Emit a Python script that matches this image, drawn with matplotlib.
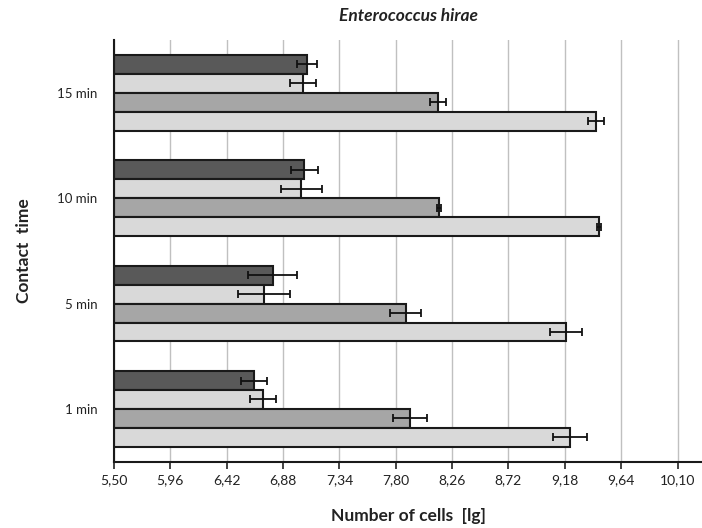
import numpy as np
import matplotlib.pyplot as plt
from matplotlib.ticker import FixedLocator, FuncFormatter

# -----------------------------
# Data (lg number of cells)
# -----------------------------
times = ["1 min", "5 min", "10 min", "15 min"]

# four series per contact time, listed top-to-bottom inside each group
s1 = [6.645, 6.794, 7.055, 7.077]
s1_err = [0.107, 0.20, 0.11, 0.08]
s2 = [6.715, 6.723, 7.028, 7.042]
s2_err = [0.107, 0.21, 0.166, 0.106]
s3 = [7.92, 7.882, 8.154, 8.143]
s3_err = [0.139, 0.125, 0.015, 0.067]
s4 = [9.222, 9.187, 9.459, 9.437]
s4_err = [0.136, 0.13, 0.02, 0.067]

xticks = [5.50, 5.96, 6.42, 6.88, 7.34, 7.80, 8.26, 8.72, 9.18, 9.64, 10.10]

# -----------------------------
# Plot
# -----------------------------
plt.rcParams['font.family'] = ['Lato', 'DejaVu Sans']

fig = plt.figure(figsize=(7.02, 5.28), dpi=100)
ax = fig.add_axes([0.1624, 0.1256, 0.8376, 0.7987])

y = np.arange(len(times))
h = 0.18
series = [(s1, s1_err, "#595959", 1.5 * h),
          (s2, s2_err, "#d9d9d9", 0.5 * h),
          (s3, s3_err, "#a6a6a6", -0.5 * h),
          (s4, s4_err, "#d9d9d9", -1.5 * h)]

base = 5.50
for vals, errs, col, off in series:
    vals = np.array(vals)
    ax.barh(y + off, vals - base, left=base, height=h, color=col,
            edgecolor="#1a1a1a", linewidth=1.5, zorder=2)
    ax.errorbar(vals, y + off, xerr=errs, fmt="none", ecolor="#111111",
                elinewidth=1.3, capsize=3, capthick=1.3, zorder=3)

ax.set_xlim(5.50, 10.30)
ax.set_ylim(-0.5, 3.5)
ax.xaxis.set_major_locator(FixedLocator(xticks))
ax.xaxis.set_major_formatter(FuncFormatter(lambda v, p: f"{v:.2f}".replace(".", ",")))
ax.set_yticks(y)
ax.set_yticklabels(times, fontsize=9.5, color="#222222")
ax.tick_params(axis="y", length=0, pad=12)
ax.tick_params(axis="x", length=5, width=1.2, direction="out", labelsize=10,
               color="#222222", labelcolor="#222222", pad=4)

ax.grid(axis="x", color="#c0c0c0", linewidth=1, zorder=0)
ax.set_axisbelow(True)
for side in ["top", "right"]:
    ax.spines[side].set_visible(False)
for side in ["left", "bottom"]:
    ax.spines[side].set_linewidth(1.5)
    ax.spines[side].set_color("#1a1a1a")

ax.set_xlabel("Number of cells  [lg]", fontsize=12.5, fontweight="bold",
              color="#222222", labelpad=16)
ax.set_ylabel("Contact  time", fontsize=12.5, fontweight="bold",
              color="#222222", labelpad=18)
ax.set_title("Enterococcus hirae", fontsize=12.5, fontstyle="italic",
             fontweight="bold", color="#222222", pad=14)

fig.savefig("out.png", dpi=100)
